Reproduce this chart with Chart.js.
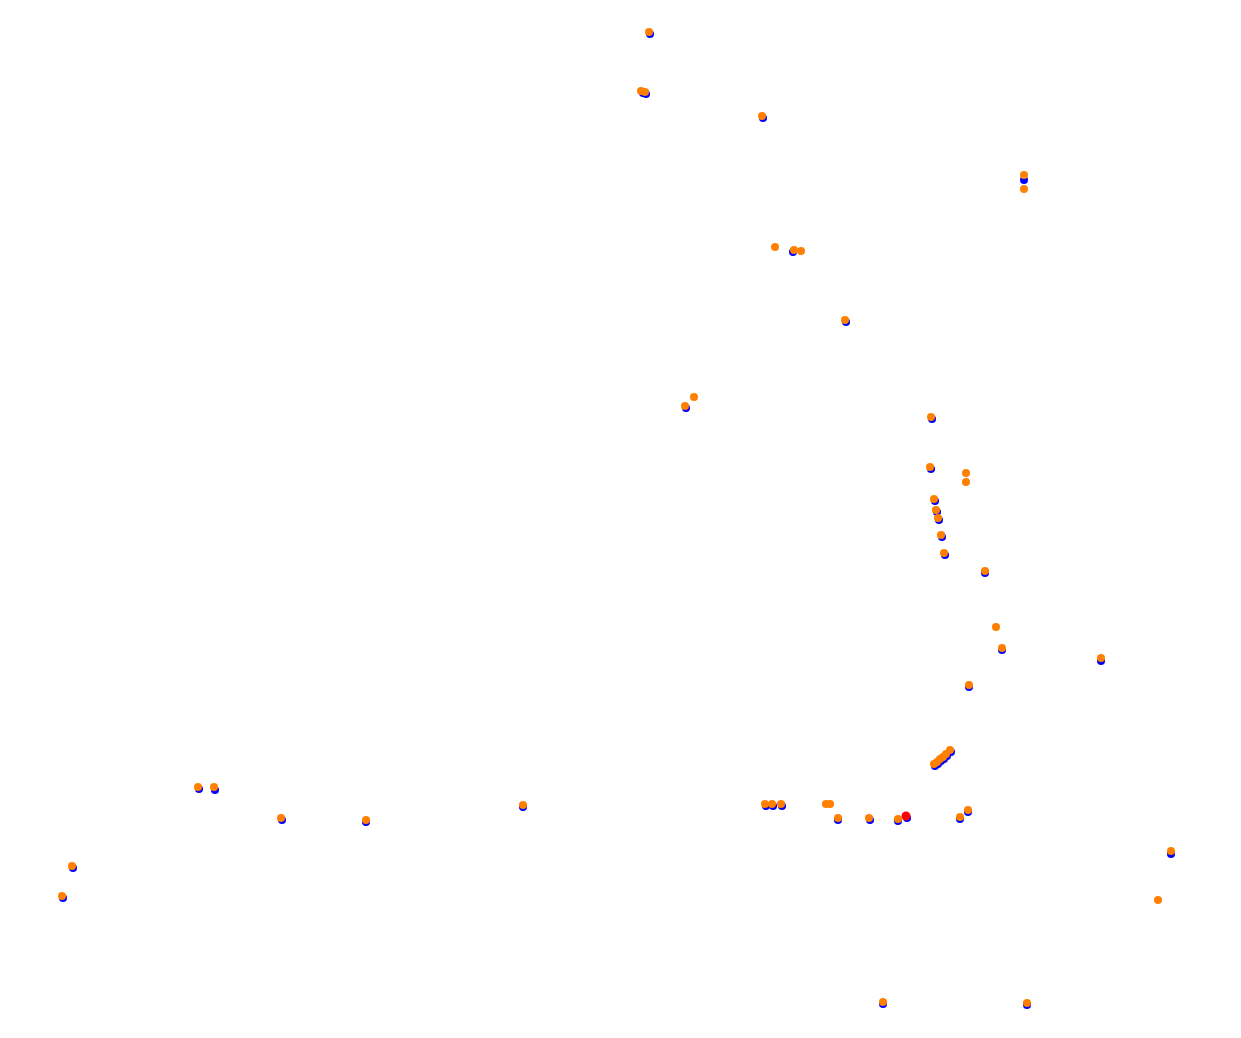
<!DOCTYPE html>
<html>
<head>
<meta charset="utf-8">
<script src="https://cdn.jsdelivr.net/npm/chart.js@4/dist/chart.umd.min.js"></script>
<style>
html,body{margin:0;padding:0;background:#fff;}
#wrap{width:1241px;height:1038px;position:relative;}
</style>
</head>
<body>
<div id="wrap"><canvas id="c"></canvas></div>
<script>
const orangeX = [649,641,645,762,1024,1024,775,794,801,845,685,694,931,930,966,966,934,936,938,941,944,985,996,1002,1101,969,934,937,940,943,946,950,198,214,281,366,523,765,772,781,826,830,838,869,898,960,968,72,62,1171,1158,883,1027];
const orangeY = [32,91,92,116,175,189,247,250,251,320,406,397,417,467,473,482,499,510,518,535,553,571,627,648,658,685,764,762,759,757,754,750,787,787,818,820,805,804,804,804,804,804,818,818,819,817,810,866,896,851,900,1002,1003];
const blueX = [650,643,646,763,1024,793,846,686,932,931,935,937,939,942,945,985,1002,1101,969,935,938,941,944,947,951,199,215,282,366,523,766,773,782,838,870,898,907,960,968,73,63,1171,883,1027];
const blueY = [34,93,94,118,180,252,322,408,419,469,501,512,520,537,555,573,650,661,687,766,764,761,759,756,752,789,790,820,822,807,806,806,806,820,820,821,818,819,812,868,898,854,1004,1005];
const redX = [906];
const redY = [816];

function pts(xs, ys){ return xs.map((x,i)=>({x:x,y:ys[i]})); }

new Chart(document.getElementById('c'), {
  type: 'scatter',
  data: {
    datasets: [
      {label:'red', data: pts(redX, redY), backgroundColor:'#ff0000', borderWidth:0, pointRadius:4.5},
      {label:'orange', data: pts(orangeX, orangeY), backgroundColor:'#ff8000', borderWidth:0, pointRadius:4},
      {label:'blue', data: pts(blueX, blueY), backgroundColor:'#0000ff', borderWidth:0, pointRadius:4}
    ]
  },
  options: {
    responsive: true,
    maintainAspectRatio: false,
    animation: false,
    layout: {padding: 0},
    plugins: {legend:{display:false}, tooltip:{enabled:false}},
    scales: {
      x: {type:'linear', min:4.5, max:1236.5, display:false},
      y: {type:'linear', min:4.5, max:1033.5, reverse:true, display:false}
    }
  }
});
</script>
</body>
</html>
